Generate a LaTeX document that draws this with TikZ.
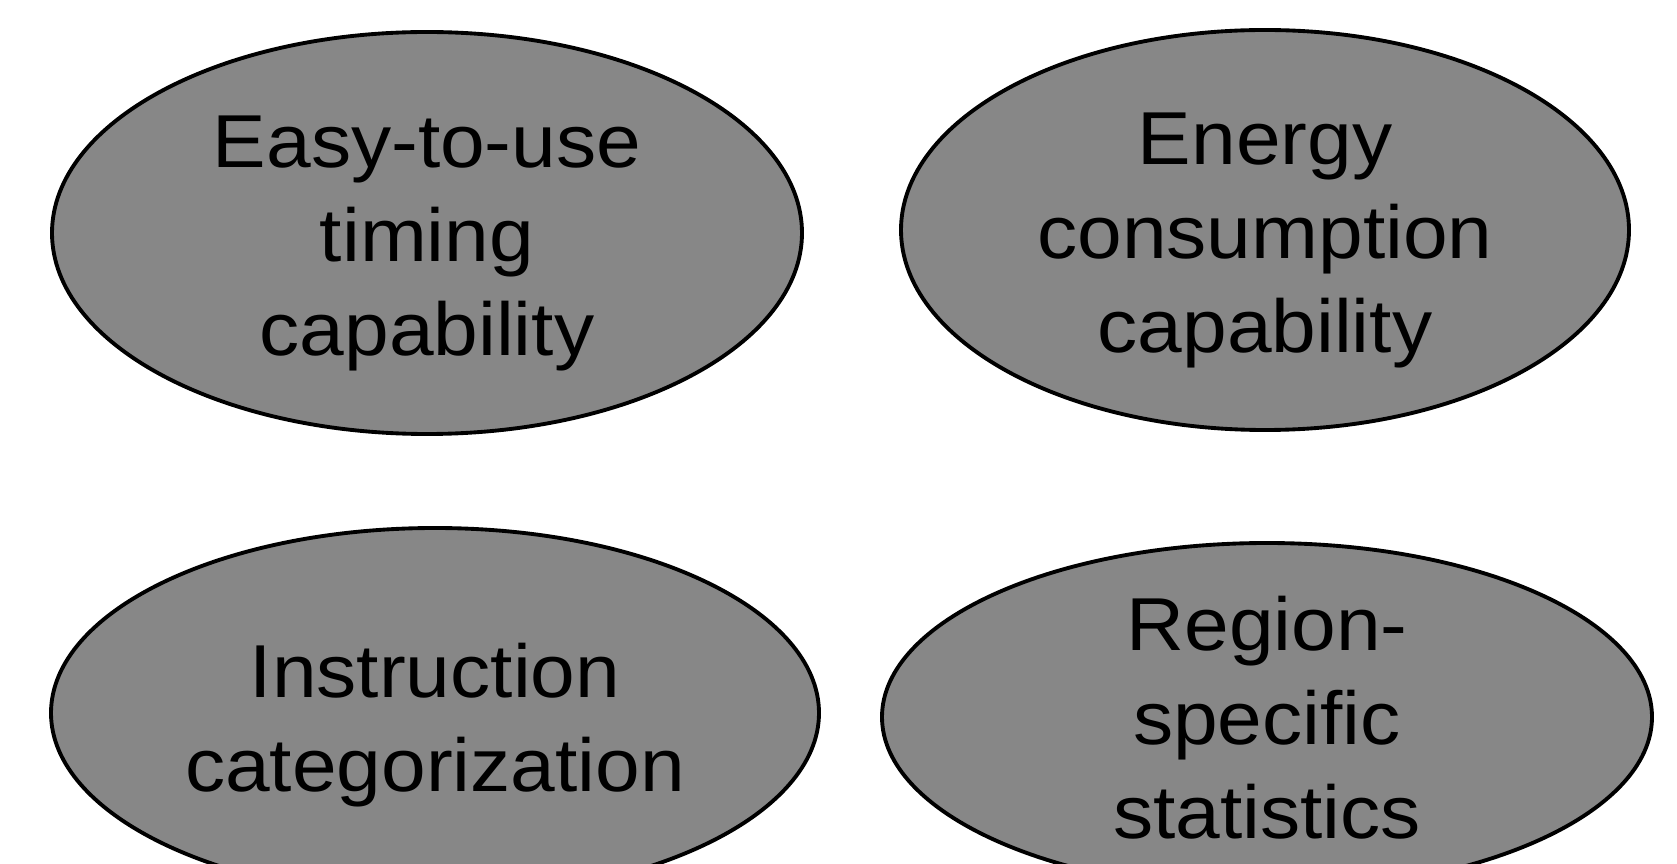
\documentclass[tikz,border=0pt]{standalone}
\usepackage{fontspec}
\setmainfont{Liberation Sans}[FakeStretch=1.07]
\definecolor{ovalgray}{RGB}{135,135,135}
\begin{document}
\begin{tikzpicture}[
       x=0.02cm, y=-0.02cm,
       oval_style/.style={draw=black, fill=ovalgray, line width=2.2pt}, % 椭圆的样式:灰色填充、黑色粗边
       text_style/.style={align=center, inner sep=0pt, font=\fontsize{42.7}{53.5}\selectfont} % 文字的样式:居中、大号无衬线
   ]

   % 0. 画面范围(下方两个椭圆被裁掉一部分)
   \clip (0,0) rectangle (1677,864);

   % 1. 上排两个椭圆
   \filldraw[oval_style] (427,233) ellipse [x radius=375, y radius=201];
   \filldraw[oval_style] (1265,230) ellipse [x radius=364, y radius=200];

   % 2. 下排两个椭圆
   \filldraw[oval_style] (435,713) ellipse [x radius=384, y radius=185];
   \filldraw[oval_style] (1267,717) ellipse [x radius=385, y radius=174];

   % 3. 椭圆中的文字
   \node[text_style] (timing) at (427,243) {Easy-to-use\\timing\\capability};
   \node[text_style] (energy) at (1265,240) {Energy\\consumption\\capability};
   \node[text_style] (instr) at (435,725) {Instruction\\categorization};
   \node[text_style] (region) at (1267,718) {Region-\\specific\\statistics};

   \end{tikzpicture}
\end{document}
